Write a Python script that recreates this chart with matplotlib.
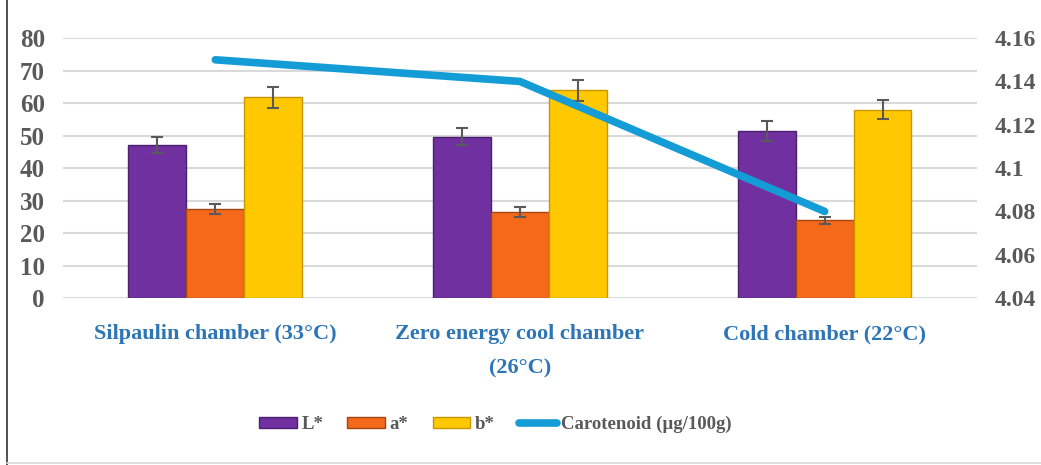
import matplotlib.pyplot as plt
import numpy as np

categories = ["Silpaulin chamber (33°C)", "Zero energy cool chamber\n(26°C)", "Cold chamber (22°C)"]
L_vals = [47.2, 49.6, 51.4]
L_err = [2.4, 2.6, 3.0]
a_vals = [27.3, 26.5, 23.9]
a_err = [1.5, 1.6, 1.1]
b_vals = [61.8, 63.9, 58.0]
b_err = [3.3, 3.3, 3.0]
carotenoid = [4.15, 4.14, 4.08]

plt.rcParams['font.family'] = ['Liberation Serif', 'DejaVu Serif']

fig = plt.figure(figsize=(10.41, 4.65), dpi=100)
ax = fig.add_axes([0.0605, 0.359, 0.878, 0.559])

x = np.arange(len(categories))
w = 0.19
err_kw = dict(ecolor="#595959", elinewidth=1.5, capsize=4, capthick=1.5)
ax.bar(x - w, L_vals, w, yerr=L_err, color="#7030A0", edgecolor="#4B1E6E", linewidth=1, label="L*", error_kw=err_kw, zorder=3)
ax.bar(x, a_vals, w, yerr=a_err, color="#F4691A", edgecolor="#A5450F", linewidth=1, label="a*", error_kw=err_kw, zorder=3)
ax.bar(x + w, b_vals, w, yerr=b_err, color="#FFC800", edgecolor="#C89600", linewidth=1, label="b*", error_kw=err_kw, zorder=3)

ax.set_xlim(-0.5, 2.5)
ax.set_ylim(0, 80)
ax.set_yticks(range(0, 81, 10))
ax.grid(axis="y", color="#D9D9D9", linewidth=1.5, zorder=0)
ax.set_axisbelow(True)
for s in ax.spines.values():
    s.set_visible(False)
ax.tick_params(axis="both", length=0)
ax.tick_params(axis="y", labelsize=18, labelcolor="#595959", pad=13)
ax.set_xticks(x)
ax.set_xticklabels(categories, fontsize=16, fontweight="bold", color="#2E75B6", linespacing=1.95)
ax.tick_params(axis="x", pad=19)
for t in ax.get_yticklabels():
    t.set_fontweight("bold")

ax2 = ax.twinx()
ax2.plot(x, carotenoid, color="#149CD7", linewidth=5.5, solid_capstyle="round", label="Carotenoid (µg/100g)", zorder=4)
ax2.set_ylim(4.04, 4.16)
ax2.set_yticks([4.04, 4.06, 4.08, 4.1, 4.12, 4.14, 4.16])
ax2.set_yticklabels(["4.04", "4.06", "4.08", "4.1", "4.12", "4.14", "4.16"])
for s in ax2.spines.values():
    s.set_visible(False)
ax2.tick_params(axis="y", length=0, labelsize=17, labelcolor="#595959", pad=13)
for t in ax2.get_yticklabels():
    t.set_fontweight("bold")

h1, l1 = ax.get_legend_handles_labels()
h2, l2 = ax2.get_legend_handles_labels()
fig.legend(h1 + h2, l1 + l2, loc="center", bbox_to_anchor=(0.476, 0.087), ncol=4, frameon=False,
           prop={"size": 13.5, "weight": "bold"}, labelcolor="#595959",
           handlelength=2.0, handleheight=0.5, handletextpad=0.25, columnspacing=1.3)

# frame: dark line on the left, light grey line along the bottom
fig.add_artist(plt.Line2D([0.007, 0.007], [0.0, 1.0], color="#333333", linewidth=1.2))
fig.add_artist(plt.Line2D([0.007, 1.0], [0.005, 0.005], color="#D9D9D9", linewidth=1.2))

fig.savefig("out.png", dpi=100)
